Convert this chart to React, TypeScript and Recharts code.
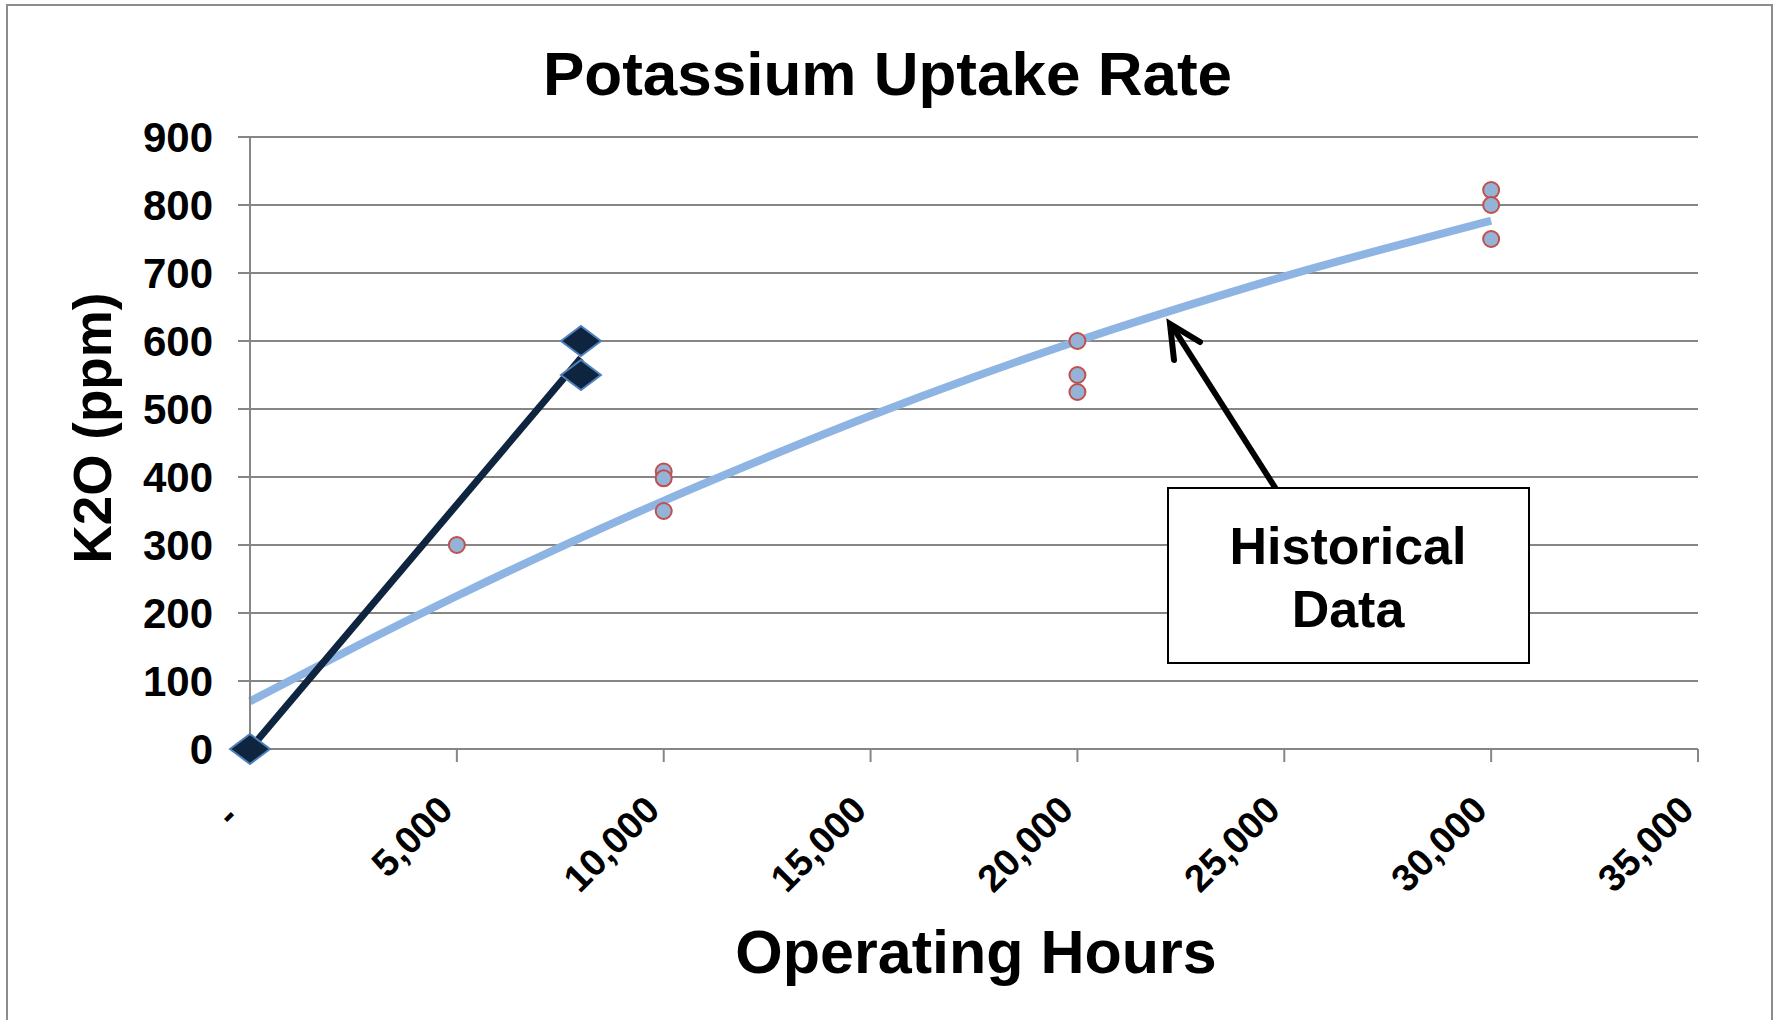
import {
  ComposedChart,
  Scatter,
  Line,
  XAxis,
  YAxis,
  CartesianGrid,
  Label,
} from "recharts";

// Data
const xTicks = [0, 5000, 10000, 15000, 20000, 25000, 30000, 35000];
const yTicks = [0, 100, 200, 300, 400, 500, 600, 700, 800, 900];

const historicalHours = [5000, 10000, 10000, 10000, 20000, 20000, 20000, 30000, 30000, 30000];
const historicalK2O = [300, 408, 398, 350, 600, 550, 525, 822, 800, 750];

const historicalTrendHours = [0, 2500, 5000, 7500, 10000, 12500, 15000, 17500, 20000, 22500, 25000, 27500, 30000];
const historicalTrendK2O = [70, 149, 225, 297, 365, 429, 490, 547, 600, 649, 695, 737, 777];

const newHours = [0, 8000, 8000];
const newK2O = [0, 600, 550];

const newTrendHours = [0, 8000];
const newTrendK2O = [0, 575];

const historical = historicalHours.map((x, i) => ({ x, y: historicalK2O[i] }));
const historicalTrend = historicalTrendHours.map((x, i) => ({ x, y: historicalTrendK2O[i] }));
const newPoints = newHours.map((x, i) => ({ x, y: newK2O[i] }));
const newTrend = newTrendHours.map((x, i) => ({ x, y: newTrendK2O[i] }));

const FONT = "'Liberation Sans', Arial, sans-serif";
const GRID = "#868686";

function formatHours(v: number) {
  return v === 0 ? "-\u00a0" : v.toLocaleString("en-US");
}

function XTick({ x, y, payload }: any) {
  const tx = x - 2;
  const ty = y + 50;
  return (
    <text
      x={tx}
      y={ty}
      transform={`rotate(-45 ${tx} ${ty})`}
      textAnchor="end"
      fontFamily={FONT}
      fontWeight="bold"
      fontSize={38}
      fill="#000"
    >
      {formatHours(payload.value)}
    </text>
  );
}

function CircleDot({ cx, cy }: any) {
  return <circle cx={cx} cy={cy} r={8} fill="#95B3D7" stroke="#C0504D" strokeWidth={2} />;
}

function Diamond({ cx, cy }: any) {
  const w = 20;
  const h = 15;
  return (
    <path
      d={`M${cx - w},${cy} L${cx},${cy - h} L${cx + w},${cy} L${cx},${cy + h} Z`}
      fill="#0F243E"
      stroke="#4F81BD"
      strokeWidth={2}
    />
  );
}

function App() {
  //Render
  return (
    <div
      style={{
        position: "absolute",
        left: 0,
        top: 0,
        width: 1775,
        height: 1020,
        overflow: "hidden",
        background: "#fff",
        fontFamily: FONT,
      }}
    >
      <div
        style={{
          position: "absolute",
          left: 6,
          top: 4,
          width: 1763,
          height: 1060,
          border: "2px solid #8c8c8c",
        }}
      />
      <div
        style={{
          position: "absolute",
          left: 0,
          width: 1775,
          top: 38,
          textAlign: "center",
          fontSize: 62,
          fontWeight: "bold",
          lineHeight: "72px",
        }}
      >
        Potassium Uptake Rate
      </div>
      <ComposedChart
        width={1775}
        height={1020}
        margin={{ top: 137, right: 77, bottom: 121, left: 130 }}
        style={{ position: "absolute", left: 0, top: 0 }}
      >
        <CartesianGrid vertical={false} stroke={GRID} strokeWidth={2} />
        <XAxis
          type="number"
          dataKey="x"
          domain={[0, 35000]}
          ticks={xTicks}
          interval={0}
          height={150}
          tickSize={13}
          tickMargin={0}
          stroke={GRID}
          strokeWidth={2}
          tick={<XTick />}
        >
          <Label
            content={() => (
              <text
                x={976}
                y={973}
                textAnchor="middle"
                fontFamily={FONT}
                fontWeight="bold"
                fontSize={61}
                fill="#000"
              >
                Operating Hours
              </text>
            )}
          />
        </XAxis>
        <YAxis
          type="number"
          dataKey="y"
          domain={[0, 900]}
          ticks={yTicks}
          interval={0}
          width={120}
          tickSize={12}
          tickMargin={25}
          stroke={GRID}
          strokeWidth={2}
          tick={{ fontFamily: FONT, fontWeight: "bold", fontSize: 42, fill: "#000" }}
        >
          <Label
            content={() => (
              <text
                x={92}
                y={428}
                transform="rotate(-90 92 428)"
                textAnchor="middle"
                dominantBaseline="central"
                fontFamily={FONT}
                fontWeight="bold"
                fontSize={53}
                fill="#000"
              >
                K2O (ppm)
              </text>
            )}
          />
        </YAxis>
        <Scatter data={historical} shape={<CircleDot />} isAnimationActive={false} />
        <Scatter data={newPoints} shape={<Diamond />} isAnimationActive={false} />
        <Line
          data={historicalTrend}
          dataKey="y"
          type="monotone"
          stroke="#8DB4E2"
          strokeWidth={8}
          dot={false}
          activeDot={false}
          isAnimationActive={false}
        />
        <Line
          data={newTrend}
          dataKey="y"
          type="linear"
          stroke="#0F243E"
          strokeWidth={7}
          dot={false}
          activeDot={false}
          isAnimationActive={false}
        />
      </ComposedChart>
      <svg
        width={1775}
        height={1020}
        style={{ position: "absolute", left: 0, top: 0, pointerEvents: "none" }}
      >
        <line x1={1276} y1={489} x2={1172} y2={326} stroke="#000" strokeWidth={6} />
        <polyline
          points="1174,360 1170,324 1200,342"
          fill="none"
          stroke="#000"
          strokeWidth={6}
          strokeLinecap="round"
          strokeLinejoin="miter"
        />
        <rect x={1168} y={488} width={361} height={175} fill="#fff" stroke="#000" strokeWidth={2} />
        <text
          x={1348}
          y={564}
          textAnchor="middle"
          fontFamily={FONT}
          fontWeight="bold"
          fontSize={52}
          fill="#000"
        >
          Historical
        </text>
        <text
          x={1348}
          y={627}
          textAnchor="middle"
          fontFamily={FONT}
          fontWeight="bold"
          fontSize={52}
          fill="#000"
        >
          Data
        </text>
      </svg>
    </div>
  );
}

export default App;
